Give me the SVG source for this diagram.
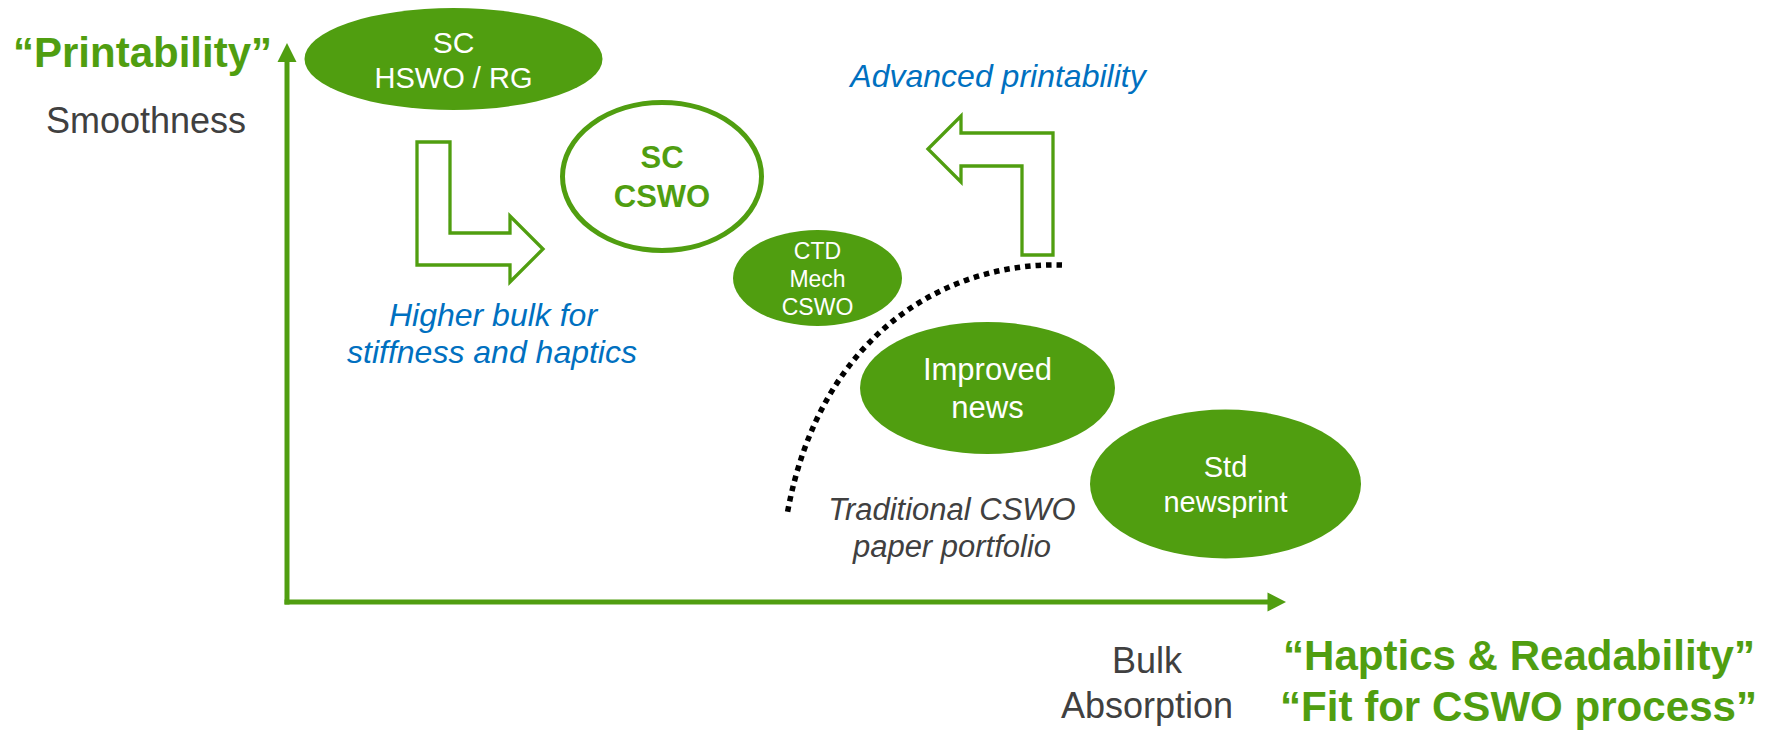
<svg xmlns="http://www.w3.org/2000/svg" width="1771" height="731" viewBox="0 0 1771 731">
<style>
.title{font-family:"Liberation Sans",Arial,sans-serif;font-weight:bold;font-size:42px;fill:#509E10}
.axis{font-family:"Liberation Sans",Arial,sans-serif;font-size:36px;fill:#404040}
.node{fill:#509E10}
.lbl{font-family:"Liberation Sans",Arial,sans-serif;fill:#ffffff;text-anchor:middle}
.note{font-family:"Liberation Sans",Arial,sans-serif;font-style:italic;font-size:32px;fill:#0070C0;text-anchor:middle}
.gnote{font-family:"Liberation Sans",Arial,sans-serif;font-style:italic;font-size:31px;fill:#404040;text-anchor:middle}
.axline{stroke:#509E10;stroke-width:5;fill:none}
.head{fill:#509E10}
.block{fill:#ffffff;stroke:#509E10;stroke-width:3.3;stroke-linejoin:miter}
.dots{fill:none;stroke:#000000;stroke-width:5.5;stroke-dasharray:5.5 5}
</style>
<rect width="1771" height="731" fill="#ffffff"/>

<g id="connectors">
  <line class="axline" x1="287" y1="604.5" x2="287" y2="60"/>
  <polygon class="head" points="287,43 277.5,62 296.5,62"/>
  <line class="axline" x1="284.5" y1="602" x2="1270" y2="602"/>
  <polygon class="head" points="1286,602 1267.5,592.5 1267.5,611.5"/>
  <polygon class="block" points="417,142 450,142 450,233 510,233 510,216 543,249 510,282 510,265 417,265"/>
  <polygon class="block" points="928,149 961,116 961,133 1053,133 1053,255 1022,255 1022,166 961,166 961,182"/>
  <path class="dots" d="M 1062 265 C 950 262, 820 330, 787 515"/>
</g>

<g id="axis-y-labels">
  <text class="title" x="13" y="67" textLength="259" lengthAdjust="spacingAndGlyphs">“Printability”</text>
  <text class="axis" x="146" y="133" text-anchor="middle">Smoothness</text>
</g>

<g id="axis-x-labels">
  <text class="axis" x="1147" y="673" text-anchor="middle">Bulk</text>
  <text class="axis" x="1147" y="718" text-anchor="middle">Absorption</text>
  <text class="title" x="1283" y="670" textLength="472" lengthAdjust="spacingAndGlyphs">“Haptics &amp; Readability”</text>
  <text class="title" x="1280" y="721" textLength="477" lengthAdjust="spacingAndGlyphs">“Fit for CSWO process”</text>
</g>

<g id="node-sc-hswo">
  <ellipse class="node" cx="453.5" cy="59" rx="149" ry="51"/>
  <text class="lbl" x="453.5" y="53" font-size="30">SC</text>
  <text class="lbl" x="453.5" y="88" font-size="29">HSWO / RG</text>
</g>

<g id="node-sc-cswo">
  <ellipse cx="662" cy="176.5" rx="99.5" ry="74" fill="#ffffff" stroke="#509E10" stroke-width="5"/>
  <text x="662" y="168" font-family="Liberation Sans, Arial, sans-serif" font-weight="bold" font-size="31" fill="#509E10" text-anchor="middle">SC</text>
  <text x="662" y="207" font-family="Liberation Sans, Arial, sans-serif" font-weight="bold" font-size="31" fill="#509E10" text-anchor="middle">CSWO</text>
</g>

<g id="node-ctd">
  <ellipse class="node" cx="817.5" cy="278" rx="84.5" ry="48"/>
  <text class="lbl" x="817.5" y="259" font-size="23">CTD</text>
  <text class="lbl" x="817.5" y="287" font-size="23">Mech</text>
  <text class="lbl" x="817.5" y="315" font-size="23">CSWO</text>
</g>

<g id="node-improved-news">
  <ellipse class="node" cx="987.5" cy="388" rx="127.5" ry="66"/>
  <text class="lbl" x="987.5" y="380" font-size="31">Improved</text>
  <text class="lbl" x="987.5" y="418" font-size="31">news</text>
</g>

<g id="node-std-newsprint">
  <ellipse class="node" cx="1225.5" cy="484" rx="135.5" ry="74.5"/>
  <text class="lbl" x="1225.5" y="477" font-size="29">Std</text>
  <text class="lbl" x="1225.5" y="512" font-size="29">newsprint</text>
</g>

<g id="note-higher-bulk">
  <text class="note" x="493" y="326">Higher bulk for</text>
  <text class="note" x="492" y="363">stiffness and haptics</text>
</g>

<g id="note-advanced">
  <text class="note" x="998" y="87">Advanced printability</text>
</g>

<g id="note-traditional">
  <text class="gnote" x="952" y="520">Traditional CSWO</text>
  <text class="gnote" x="952" y="557">paper portfolio</text>
</g>
</svg>
